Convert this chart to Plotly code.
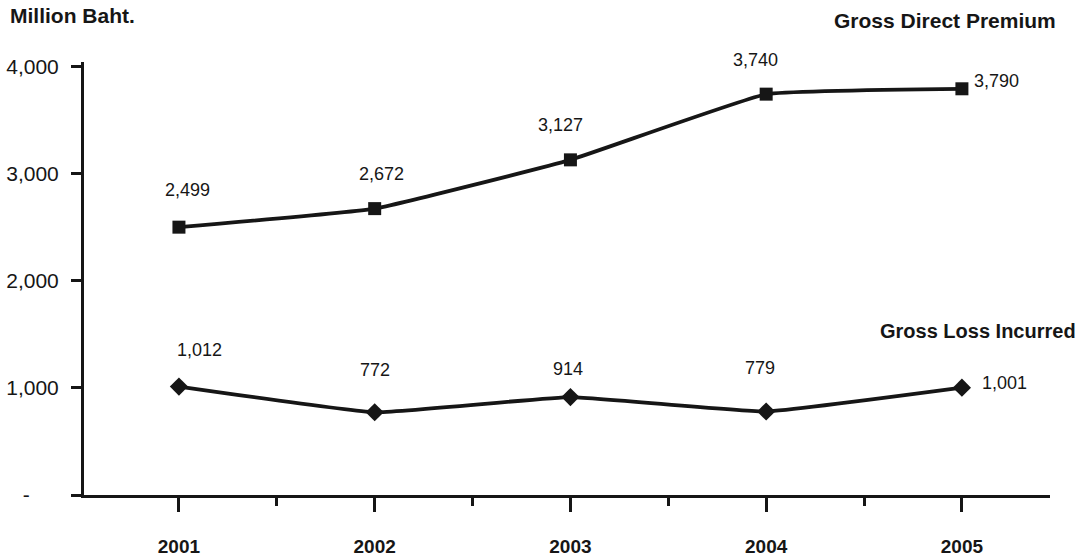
import plotly.graph_objects as go

# Annual figures, million Baht
years = ["2001", "2002", "2003", "2004", "2005"]
gross_direct_premium = [2499, 2672, 3127, 3740, 3790]
gross_loss_incurred = [1012, 772, 914, 779, 1001]

y_tick_values = [0, 1000, 2000, 3000, 4000]
y_tick_labels = ["-" + "\u00a0" * 5, "1,000", "2,000", "3,000", "4,000"]

# label offsets in pixels (x, y) relative to each marker
premium_offsets = [(9, 37), (7, 35), (-10, 35), (-11, 34), (10, 8)]
loss_offsets = [(21, 37), (0, 42), (-2, 28), (-6, 44), (18, 5)]

FONT = "Liberation Sans, Arial, Helvetica, sans-serif"
INK = "#161616"
x = list(range(len(years)))

fig = go.Figure()
fig.add_trace(go.Scatter(
    x=x, y=gross_direct_premium, mode="lines+markers", name="Gross Direct Premium",
    line=dict(color=INK, width=3.8, shape="spline", smoothing=0.3),
    marker=dict(symbol="square", size=13, color=INK),
))
fig.add_trace(go.Scatter(
    x=x, y=gross_loss_incurred, mode="lines+markers", name="Gross Loss Incurred",
    line=dict(color=INK, width=3.8, shape="spline", smoothing=0.3),
    marker=dict(symbol="diamond", size=14, color=INK),
))

annotations = []
for series, offsets in ((gross_direct_premium, premium_offsets), (gross_loss_incurred, loss_offsets)):
    for i, (v, (dx, dy)) in enumerate(zip(series, offsets)):
        last = i == len(series) - 1
        annotations.append(dict(
            x=x[i], y=v, xref="x", yref="y", text=f"{v:,}", showarrow=False,
            xanchor="left" if last else "center", yanchor="middle",
            xshift=dx, yshift=dy,
            font=dict(family=FONT, size=18, color=INK),
        ))

# titles placed in pixel coordinates, converted to paper units below
annotations += [
    dict(x=8, y=559 - 16, xref="paper", yref="paper", text="<b>Million Baht.</b>",
         showarrow=False, xanchor="left", yanchor="middle",
         font=dict(family=FONT, size=21, color=INK)),
    dict(x=1058, y=559 - 20, xref="paper", yref="paper", text="<b>Gross Direct Premium</b>",
         showarrow=False, xanchor="right", yanchor="middle",
         font=dict(family=FONT, size=21, color=INK)),
    dict(x=1078, y=559 - 331, xref="paper", yref="paper", text="<b>Gross Loss Incurred</b>",
         showarrow=False, xanchor="right", yanchor="middle",
         font=dict(family=FONT, size=20, color=INK)),
]

L, R, T, B = 84, 42, 62, 64
W, H = 1092, 559
pw, ph = W - L - R, H - T - B
for a in annotations:
    if a.get("xref") == "paper":
        a["x"] = (a["x"] - L) / pw
        a["y"] = (a["y"] - B) / ph

fig.update_layout(
    width=W, height=H,
    margin=dict(l=L, r=R, t=T, b=B, autoexpand=False),
    paper_bgcolor="white", plot_bgcolor="white",
    showlegend=False,
    annotations=annotations,
    font=dict(family=FONT, color=INK),
)
fig.update_xaxes(
    range=[-0.485, 4.45], tickvals=x, ticktext=[f"<b>{y}</b>" for y in years],
    automargin=False,
    showgrid=False, zeroline=False,
    showline=True, linecolor=INK, linewidth=3,
    ticks="outside", ticklen=14, tickwidth=2.5, tickcolor=INK,
    ticklabelstandoff=18,
    tickfont=dict(family=FONT, size=19, color=INK),
    minor=dict(tick0=0.5, dtick=1, ticks="outside", ticklen=8, tickwidth=2.5, tickcolor=INK),
)
fig.update_yaxes(
    range=[0, 4040], tickvals=y_tick_values, ticktext=y_tick_labels,
    automargin=False,
    showgrid=False, zeroline=False,
    showline=True, linecolor=INK, linewidth=3,
    ticks="outside", ticklen=10, tickwidth=2.5, tickcolor=INK,
    ticklabelstandoff=8,
    tickfont=dict(family=FONT, size=21, color=INK),
)

fig.write_html("out.html")
